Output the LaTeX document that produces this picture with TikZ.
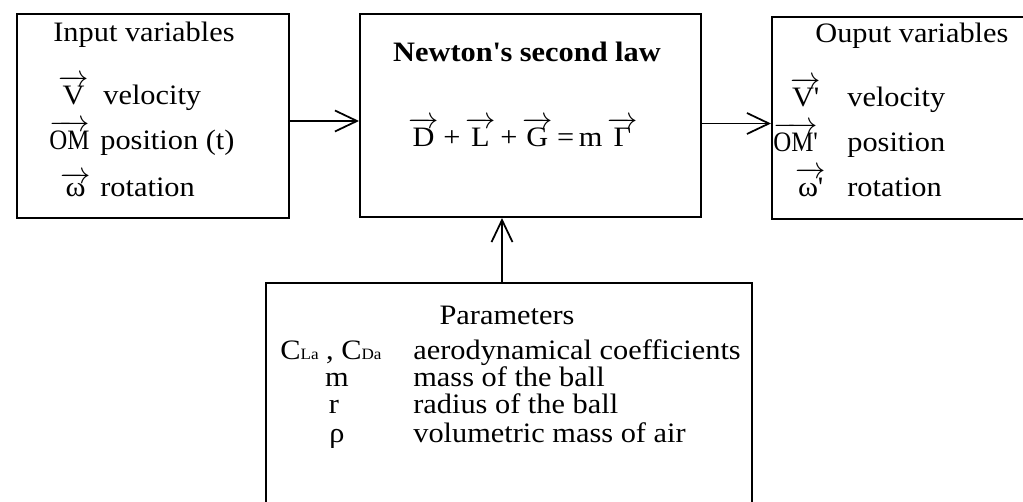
\documentclass[tikz,border=0pt]{standalone}
\usepackage{amsmath}
\usepackage{fontspec}
\setmainfont[FakeStretch=1.08]{Liberation Serif}
\usetikzlibrary{positioning, arrows.meta}
\newcommand{\vect}[1]{$\overrightarrow{\hbox{#1}}$}

\begin{document}
\begin{tikzpicture}[x=0.02cm, y=-0.02cm,
    block/.style={draw, line width=1.2pt, inner sep=0pt},
    txt/.style={inner sep=0pt, anchor=base west, font=\fontsize{16}{18}\selectfont},
    arrow/.style={-{Straight Barb[length=4.4mm, width=4.2mm]}, line width=1pt},
]
\useasboundingbox (0,0) rectangle (1023,502);
\clip (0,0) rectangle (1023,502);

% Blocks
\node[block, minimum width=5.44cm, minimum height=4.08cm] (in) at (153,116) {};
\node[block, minimum width=6.82cm, minimum height=4.06cm] (law) at (530.5,115.5) {};
\node[block, minimum width=5.46cm, minimum height=4.04cm] (out) at (908.5,118) {};
\node[block, minimum width=9.72cm, minimum height=4.74cm] (par) at (509,401.5) {};

% Input variables
\node[txt] (inT) at (53,42) {Input variables};
\node[txt] (inV) at (58,105) {\vect{V}};
\node[txt] (inVl) at (103,105) {velocity};
\node[txt] (inOM) at (49,150) {\vect{\scalebox{0.82}[1]{OM}}};
\node[txt] (inOMl) at (100,150) {position (t)};
\node[txt] (inW) at (60,197) {\vect{ω}};
\node[txt] (inWl) at (100,197) {rotation};

% Newton's law
\node[txt, anchor=base, font=\fontsize{16}{18}\selectfont\bfseries] (lawT) at (527,62)
    {Newton\textquotesingle s second law};
\node[txt, anchor=base] (lawEq) at (523,147)
    {\vect{D}\,+\,\vect{L}\,+\,\vect{G}\,=\,m\,\vect{Γ}};

% Output variables
\node[txt] (outT) at (815,43) {Ouput variables};
\node[txt] (outV) at (790,107) {\vect{V\textquotesingle}};
\node[txt] (outVl) at (847,107) {velocity};
\node[txt] (outOM) at (773,152) {\vect{\scalebox{0.82}[1]{OM\textquotesingle}}};
\node[txt] (outOMl) at (847,152) {position};
\node[txt] (outW) at (795,197) {\vect{ω\textquotesingle}};
\node[txt] (outWl) at (847,197) {rotation};

% Parameters
\node[txt, anchor=base] (parT) at (507,325) {Parameters};
\node[txt] (parC) at (280,360) {C{\small La} , C{\small Da}};
\node[txt] (parCl) at (413,360) {aerodynamical coefficients};
\node[txt, anchor=base] (parM) at (337,387) {m};
\node[txt] (parMl) at (413,387) {mass of the ball};
\node[txt, anchor=base] (parR) at (334,414) {r};
\node[txt] (parRl) at (413,414) {radius of the ball};
\node[txt, anchor=base] (parRho) at (337,442) {ρ};
\node[txt] (parRhol) at (413,442) {volumetric mass of air};

\draw[arrow] ([yshift=-0.1cm]in.east) -- ([yshift=-0.1cm]in.east -| law.west);
\draw[arrow] ([yshift=-0.16cm]law.east) -- ([yshift=-0.16cm]law.east -| out.west);
\draw[arrow] ([xshift=-0.14cm]par.north) -- ([xshift=-0.14cm]par.north |- law.south);
\end{tikzpicture}
\end{document}
